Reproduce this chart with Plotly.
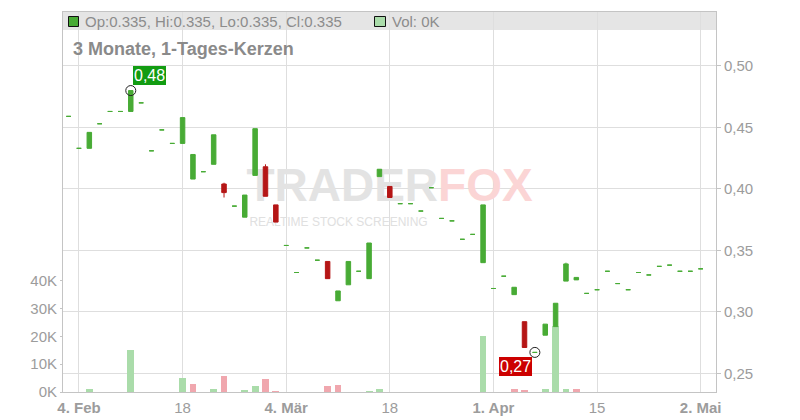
import plotly.graph_objects as go

# ---------------- data ----------------
dates = [
    "2025-02-03", "2025-02-04", "2025-02-05", "2025-02-06", "2025-02-07",
    "2025-02-10", "2025-02-11", "2025-02-12", "2025-02-13", "2025-02-14",
    "2025-02-17", "2025-02-18", "2025-02-19", "2025-02-20", "2025-02-21",
    "2025-02-24", "2025-02-25", "2025-02-26", "2025-02-27", "2025-02-28",
    "2025-03-03", "2025-03-04", "2025-03-05", "2025-03-06", "2025-03-07",
    "2025-03-10", "2025-03-11", "2025-03-12", "2025-03-13", "2025-03-14",
    "2025-03-17", "2025-03-18", "2025-03-19", "2025-03-20", "2025-03-21",
    "2025-03-24", "2025-03-25", "2025-03-26", "2025-03-27", "2025-03-28",
    "2025-03-31", "2025-04-01", "2025-04-02", "2025-04-03", "2025-04-04",
    "2025-04-07", "2025-04-08", "2025-04-09", "2025-04-10", "2025-04-11",
    "2025-04-14", "2025-04-15", "2025-04-16", "2025-04-17", "2025-04-22",
    "2025-04-23", "2025-04-24", "2025-04-25", "2025-04-28", "2025-04-29",
    "2025-04-30", "2025-05-02",
]
opens = [
    0.459, 0.433, 0.433, 0.453, 0.463, 0.463, 0.463, 0.470, 0.431, 0.448,
    0.437, 0.437, 0.408, 0.414, 0.420, 0.404, 0.386, 0.377, 0.411, 0.418,
    0.387, 0.354, 0.332, 0.352, 0.342, 0.341, 0.309, 0.322, 0.333, 0.327,
    0.410, 0.402, 0.388, 0.388, 0.382, 0.401, 0.376, 0.374, 0.359, 0.363,
    0.340, 0.319, 0.329, 0.314, 0.292, 0.267, 0.281, 0.288, 0.325, 0.326,
    0.315, 0.318, 0.333, 0.323, 0.318, 0.332, 0.330, 0.337, 0.338, 0.333,
    0.333, 0.335,
]
highs = [
    0.459, 0.433, 0.446, 0.453, 0.463, 0.463, 0.480, 0.470, 0.431, 0.448,
    0.437, 0.458, 0.428, 0.414, 0.444, 0.405, 0.386, 0.395, 0.449, 0.420,
    0.387, 0.354, 0.332, 0.352, 0.342, 0.341, 0.317, 0.341, 0.333, 0.356,
    0.416, 0.402, 0.388, 0.388, 0.382, 0.401, 0.376, 0.374, 0.359, 0.363,
    0.387, 0.319, 0.329, 0.320, 0.292, 0.267, 0.290, 0.307, 0.340, 0.328,
    0.315, 0.318, 0.333, 0.323, 0.318, 0.332, 0.330, 0.337, 0.338, 0.333,
    0.333, 0.335,
]
lows = [
    0.459, 0.433, 0.433, 0.453, 0.463, 0.463, 0.463, 0.470, 0.431, 0.448,
    0.437, 0.437, 0.408, 0.414, 0.420, 0.393, 0.386, 0.377, 0.411, 0.394,
    0.373, 0.354, 0.332, 0.352, 0.342, 0.327, 0.309, 0.322, 0.333, 0.327,
    0.410, 0.393, 0.388, 0.388, 0.382, 0.401, 0.376, 0.374, 0.359, 0.363,
    0.340, 0.319, 0.329, 0.314, 0.271, 0.267, 0.281, 0.288, 0.325, 0.326,
    0.315, 0.318, 0.333, 0.323, 0.318, 0.332, 0.330, 0.337, 0.338, 0.333,
    0.333, 0.335,
]
closes = [
    0.459, 0.433, 0.446, 0.453, 0.463, 0.463, 0.480, 0.470, 0.431, 0.448,
    0.437, 0.458, 0.428, 0.414, 0.444, 0.397, 0.386, 0.395, 0.449, 0.394,
    0.373, 0.354, 0.332, 0.352, 0.342, 0.327, 0.317, 0.341, 0.333, 0.356,
    0.416, 0.393, 0.388, 0.388, 0.382, 0.401, 0.376, 0.374, 0.359, 0.363,
    0.387, 0.319, 0.329, 0.320, 0.271, 0.267, 0.290, 0.307, 0.339, 0.328,
    0.315, 0.318, 0.333, 0.323, 0.318, 0.332, 0.330, 0.337, 0.338, 0.333,
    0.333, 0.335,
]
volumes = [
    0, 0, 1100, 0, 0, 0, 15200, 0, 0, 0,
    0, 5000, 2900, 0, 1100, 5700, 0, 700, 2100, 4600,
    400, 0, 0, 0, 0, 2100, 2400, 0, 0, 300,
    1100, 0, 0, 0, 0, 0, 0, 0, 0, 0,
    20100, 0, 0, 1100, 800, 0, 1100, 23600, 1100, 1100,
    0, 0, 0, 0, 0, 0, 0, 0, 0, 0,
    0, 0,
]
tick_dates = ["2025-02-04", "2025-02-18", "2025-03-04", "2025-03-18",
              "2025-04-01", "2025-04-15", "2025-05-02"]
tick_labels = ["<b>4. Feb</b>", "18", "<b>4. Mär</b>", "18",
               "<b>1. Apr</b>", "15", "<b>2. Mai</b>"]
price_ticks = [0.25, 0.30, 0.35, 0.40, 0.45, 0.50]
vol_ticks = [0, 10000, 20000, 30000, 40000]
vol_tick_labels = ["0K", "10K", "20K", "30K", "40K"]
title_text = "3 Monate, 1-Tages-Kerzen"

# ---------------- styling ----------------
GREEN = "#48ab35"
RED = "#b51616"
VOL_UP = "#aadcaa"
VOL_DN = "#f0a7ae"
GRID = "#dedede"
FRAME = "#c4c4c4"
TXT = "#9c9c9c"
FONT = "Liberation Sans, Arial, sans-serif"

W, H = 800, 420
ML, MR, MT, MB = 63, 84, 12, 28
PW, PH = W - ML - MR, H - MT - MB


def px_x(px):
    return (px - ML) / PW


def px_y(py):
    return (H - MB - py) / PH


idx = list(range(len(dates)))
x_range = [-0.54, 62.48]
price_range = [0.2348, 0.5439]
vol_range = [0, 136600]

up = [i for i in idx if closes[i] >= opens[i]]
dn = [i for i in idx if closes[i] < opens[i]]

vol_colors = [VOL_UP if (i == 0 or closes[i] >= closes[i - 1]) else VOL_DN for i in idx]

fig = go.Figure()

# watermark (behind everything, on the base axis)
fig.add_trace(go.Scatter(
    x=[(x_range[0] + x_range[1]) / 2], y=[vol_range[1] * px_y(189)],
    mode="text",
    text=["<b>TRADER<span style='color:#fbd5d5'>FOX</span></b>"],
    textfont=dict(size=46, color="#e3e3e3", family=FONT),
    xaxis="x", yaxis="y", hoverinfo="skip", showlegend=False,
))
fig.add_trace(go.Scatter(
    x=[x_range[0] + 0.422 * (x_range[1] - x_range[0])], y=[vol_range[1] * px_y(223)],
    mode="text",
    text=["REALTIME STOCK SCREENING"],
    textfont=dict(size=12, color="#e0e0e0", family=FONT),
    xaxis="x", yaxis="y", hoverinfo="skip", showlegend=False,
))

# volume
fig.add_trace(go.Bar(
    x=idx, y=volumes, marker=dict(color=vol_colors, line=dict(width=0)),
    width=0.66, xaxis="x", yaxis="y", showlegend=False, hoverinfo="skip",
))

# candles
for sel, col in ((up, GREEN), (dn, RED)):
    fig.add_trace(go.Candlestick(
        x=[idx[i] for i in sel],
        open=[opens[i] for i in sel], high=[highs[i] for i in sel],
        low=[lows[i] for i in sel], close=[closes[i] for i in sel],
        increasing=dict(line=dict(color=col, width=1), fillcolor=col),
        decreasing=dict(line=dict(color=col, width=1), fillcolor=col),
        whiskerwidth=0, xaxis="x", yaxis="y2", showlegend=False, hoverinfo="skip",
    ))

i_hi = max(idx, key=lambda i: highs[i])
i_lo = min(idx, key=lambda i: lows[i])
fig.add_trace(go.Scatter(
    x=[i_hi, i_lo], y=[highs[i_hi], lows[i_lo]], mode="markers",
    marker=dict(symbol="circle-open", size=10, color="#222222", line=dict(width=1)),
    xaxis="x", yaxis="y2", showlegend=False, hoverinfo="skip",
))


def fmt(v):
    return f"{v:.2f}".replace(".", ",")


annotations = [
    dict(x=i_hi, y=highs[i_hi], xref="x", yref="y2", text=fmt(highs[i_hi]),
         showarrow=False, xanchor="left", yanchor="bottom", xshift=2, yshift=6,
         bgcolor="#129c12", borderpad=0, borderwidth=1, bordercolor="#129c12",
         font=dict(size=16, color="white", family=FONT)),
    dict(x=i_lo, y=lows[i_lo], xref="x", yref="y2", text=fmt(lows[i_lo]),
         showarrow=False, xanchor="right", yanchor="top", xshift=-3, yshift=-5,
         bgcolor="#cc0000", borderpad=0, borderwidth=1, bordercolor="#cc0000",
         font=dict(size=16, color="white", family=FONT)),
    dict(x=px_x(83), y=px_y(21.5), xref="paper", yref="paper",
         text=f"Op:{opens[-1]:.3f}, Hi:{highs[-1]:.3f}, Lo:{lows[-1]:.3f}, Cl:{closes[-1]:.3f}",
         showarrow=False, xanchor="left", yanchor="middle",
         font=dict(size=15, color="#8c8c8c", family=FONT)),
    dict(x=px_x(390), y=px_y(21.5), xref="paper", yref="paper",
         text=f"Vol: {volumes[-1] // 1000}K",
         showarrow=False, xanchor="left", yanchor="middle",
         font=dict(size=15, color="#8c8c8c", family=FONT)),
    dict(x=px_x(71), y=px_y(49), xref="paper", yref="paper",
         text=f"<b>{title_text}</b>",
         showarrow=False, xanchor="left", yanchor="middle",
         font=dict(size=18, color="#8a8a8a", family=FONT)),
]

shapes = [
    dict(type="rect", xref="paper", yref="paper", x0=0, x1=1, y0=px_y(30), y1=1,
         fillcolor="#e5e5e5", line=dict(width=0), layer="below"),
    dict(type="rect", xref="paper", yref="paper", x0=px_x(68.5), x1=px_x(78.5),
         y0=px_y(26.5), y1=px_y(16.5), fillcolor=GREEN,
         line=dict(color="#111111", width=1), layer="above"),
    dict(type="rect", xref="paper", yref="paper", x0=px_x(374.5), x1=px_x(385.5),
         y0=px_y(26.5), y1=px_y(16.5), fillcolor=VOL_UP,
         line=dict(color="#111111", width=1), layer="above"),
]

fig.update_layout(
    width=W, height=H,
    margin=dict(l=ML, r=MR, t=MT, b=MB, pad=0, autoexpand=False),
    paper_bgcolor="white", plot_bgcolor="white",
    separators=",.",
    hovermode=False, showlegend=False,
    boxgap=0.38, bargap=0,
    font=dict(family=FONT, color=TXT, size=15),
    xaxis=dict(
        range=x_range, showgrid=True, gridcolor=GRID, gridwidth=1,
        tickvals=[dates.index(d) for d in tick_dates], ticktext=tick_labels,
        ticks="outside", ticklen=2, tickcolor="rgba(0,0,0,0)",
        tickfont=dict(size=15, color=TXT, family=FONT),
        showline=True, linecolor=FRAME, linewidth=1, mirror=True,
        zeroline=False, rangeslider=dict(visible=False), fixedrange=True,
    ),
    yaxis=dict(
        range=vol_range, side="left", showgrid=False, zeroline=False,
        tickvals=vol_ticks, ticktext=vol_tick_labels,
        ticks="outside", ticklen=2, tickcolor=FRAME,
        tickfont=dict(size=15, color=TXT, family=FONT),
        showline=True, linecolor=FRAME, linewidth=1, fixedrange=True,
    ),
    yaxis2=dict(
        range=price_range, side="right", overlaying="y",
        tickvals=price_ticks, tickformat=".2f",
        showgrid=True, gridcolor=GRID, gridwidth=1, zeroline=False,
        ticks="outside", ticklen=4, tickcolor=FRAME,
        tickfont=dict(size=15, color=TXT, family=FONT),
        showline=True, linecolor=FRAME, linewidth=1, fixedrange=True,
    ),
    annotations=annotations,
    shapes=shapes,
)

fig.write_html(
    "out.html",
    config={"displayModeBar": False, "staticPlot": True},
    post_script="document.body.style.margin='0px';document.body.style.overflow='hidden';",
)
